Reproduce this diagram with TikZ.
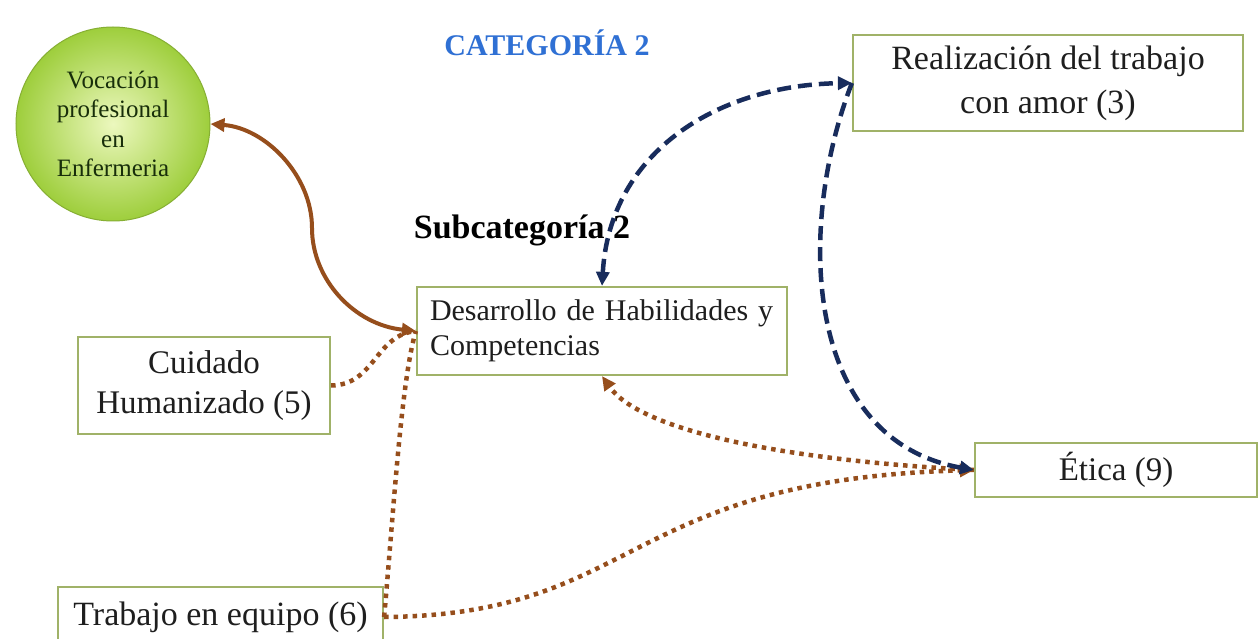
\documentclass[tikz,border=0pt]{standalone}
\usepackage{fontspec}
\setmainfont{Liberation Serif}
\usetikzlibrary{arrows.meta}
\definecolor{boxline}{RGB}{160,178,104}
\definecolor{brn}{RGB}{150,78,28}
\definecolor{navy}{RGB}{24,44,92}
\definecolor{catblue}{RGB}{47,112,212}
\definecolor{txt}{RGB}{30,30,30}
\definecolor{circtxt}{RGB}{24,46,10}
\definecolor{cin}{RGB}{236,248,190}
\definecolor{cout}{RGB}{158,206,60}
\begin{document}
\begin{tikzpicture}[x=1pt,y=-1pt,
  box/.style={draw=boxline, line width=2.2pt, fill=white, inner sep=0pt, text=txt, align=center},
  bigtxt/.style={font=\fontsize{34}{44}\selectfont},
  bsolid/.style={draw=brn, line width=4pt},
  bdot/.style={draw=brn, line width=4.5pt, dash pattern=on 4.5pt off 5pt},
  bdash/.style={draw=navy, line width=4.5pt, dash pattern=on 14pt off 7pt},
  tipb/.style={-{Triangle[length=14pt,width=13pt]}},
  tipbb/.style={{Triangle[length=14pt,width=13pt]}-{Triangle[length=14pt,width=13pt]}}
]
\useasboundingbox (0,0) rectangle (1259,639);
\fill[white] (0,0) rectangle (1259,639);
\begin{scope}
\clip (0,0) rectangle (1259,639);

\node[circle, minimum size=194pt, inner sep=0pt, draw=cout!85!black, line width=1pt,
      inner color=cin, outer color=cout, text=circtxt, align=center,
      font=\fontsize{25}{29.5}\selectfont] (circ) at (113,124)
      {Vocación\\profesional\\en\\Enfermeria};

\node[text=catblue, font=\bfseries\fontsize{30}{34}\selectfont] (cat) at (547,43) {CATEGORÍA 2};
\node[text=black, font=\bfseries\fontsize{34}{40}\selectfont] (sub) at (522,230) {Subcategoría 2};

\node[box, align=left, text width=344pt, inner xsep=13pt, minimum height=88pt,
      font=\fontsize{30}{35}\selectfont] (des) at (602,331)
      {Desarrollo de Habilidades y\\Competencias};
\node[box, bigtxt, minimum width=390pt, minimum height=96pt] (rea) at (1048,83)
      {Realización del trabajo\\con amor (3)};
\node[box, font=\fontsize{33}{40}\selectfont, minimum width=252pt, minimum height=97pt] (cui) at (204,385.5)
      {Cuidado\\Humanizado (5)};
\node[box, font=\fontsize{33}{40}\selectfont, minimum width=282pt, minimum height=54pt] (eti) at (1116,470)
      {Ética (9)};
\node[box, bigtxt, minimum width=325pt, minimum height=60pt] (trab) at (220.5,617)
      {Trabajo en equipo (6)};

% brown solid
\draw[bsolid, tipbb] (des.west) .. controls (355,325) and (312,280) .. (312,228)
      .. controls (312,175) and (265,128) .. (circ.east);
% brown dotted
\draw[bdot] (cui.east) .. controls (375,385) and (375,335) .. (des.west);
\draw[bdot] (trab.east) .. controls (393,520) and (401,380) .. (des.west);
\draw[bdot, tipb] (eti.west) .. controls (780,460) and (640,430) .. (des.south);
\draw[bdot, tipb] (trab.east) .. controls (640,615) and (620,480) .. (eti.west);
% blue dashed
\draw[bdash, tipbb] (des.north) .. controls (610,150) and (720,85) .. (rea.west);
\draw[bdash, tipb] (rea.west) .. controls (795,230) and (805,440) .. (eti.west);
\end{scope}
\end{tikzpicture}
\end{document}
